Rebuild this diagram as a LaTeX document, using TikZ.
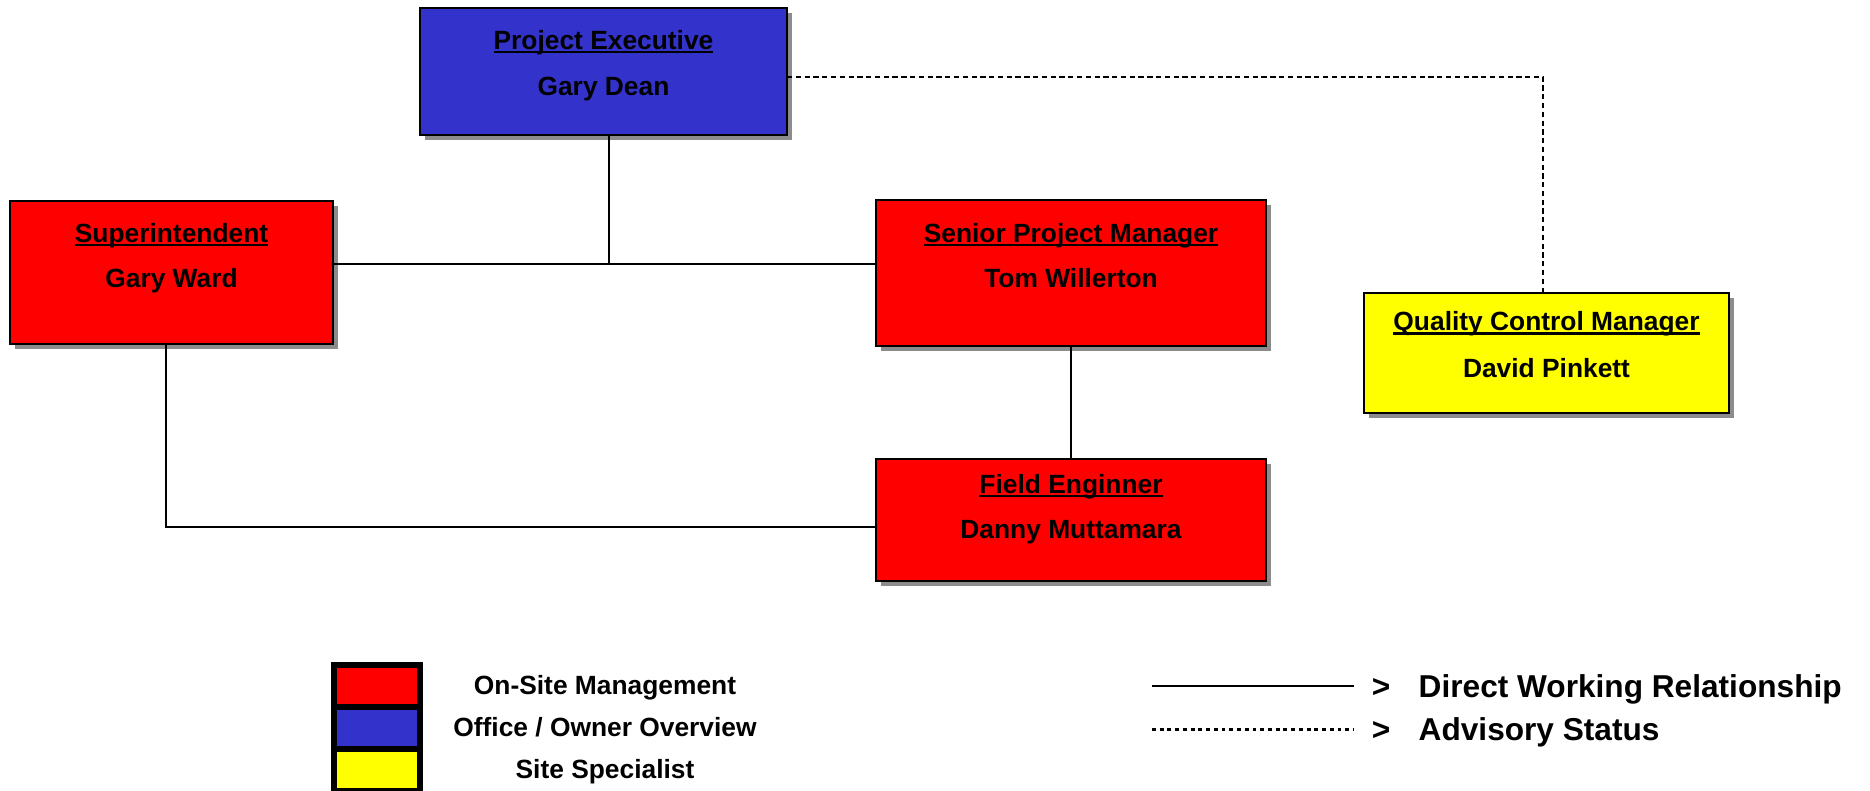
\documentclass[tikz,border=0pt]{standalone}
\usepackage{fontspec}
\setmainfont{Liberation Sans}
\usetikzlibrary{positioning, shadows}
\definecolor{execblue}{RGB}{51, 51, 204}
\definecolor{sitered}{RGB}{255, 0, 0}
\definecolor{specyellow}{RGB}{255, 255, 0}
\newcommand{\titlerule}[1]{\setbox0=\hbox{#1}\rlap{\rule[-0.16em]{\wd0}{0.1em}}\box0}

\tikzset{
    orgbox/.style={draw=black, line width=0.6pt, rectangle, inner sep=0pt, outer sep=0pt,
        drop shadow={shadow xshift=0.5mm, shadow yshift=-0.5mm, fill=black!45, opacity=1}},
    roletext/.style={font=\fontsize{7.5}{9}\selectfont\bfseries, anchor=base, inner sep=0pt},
    link/.style={draw=black, line width=0.55pt},
    advisory/.style={draw=black, line width=0.55pt, dash pattern=on 1.5pt off 1pt},
    keybox/.style={draw=black, line width=0.6mm, minimum width=8.6mm, minimum height=4.2mm, inner sep=0pt, outer sep=0pt},
    keytext/.style={font=\fontsize{7.5}{9}\selectfont\bfseries, anchor=base, inner sep=0pt},
    keydots/.style={draw=black, line width=0.85pt, dash pattern=on 1.1pt off 1.1pt},
    linetext/.style={font=\fontsize{9}{11}\selectfont\bfseries, anchor=base, inner sep=0pt}
}

\begin{document}
\begin{tikzpicture}[x=0.1mm, y=-0.1mm]
    \useasboundingbox (0,0) rectangle (1870,790);

    % connectors
    \coordinate (hub) at (609,264);
    \coordinate (supdrop) at (166,527);
    \coordinate (qcbend) at (1543,77);

    % boxes
    \node[orgbox, fill=execblue, minimum width=36.7mm, minimum height=12.7mm] (exec) at (603.5,71.5) {};
    \node[orgbox, fill=sitered, minimum width=32.3mm, minimum height=14.3mm] (sup) at (171.5,272.5) {};
    \node[orgbox, fill=sitered, minimum width=39mm, minimum height=14.6mm] (spm) at (1071,273) {};
    \node[orgbox, fill=specyellow, minimum width=36.5mm, minimum height=12mm] (qcm) at (1546.5,353) {};
    \node[orgbox, fill=sitered, minimum width=39mm, minimum height=12.2mm] (fe) at (1071,520) {};

    \draw[link] (exec.south -| hub) -- (hub);
    \draw[link] (sup.east |- hub) -- (spm.west |- hub);
    \draw[link] (spm.south) -- (fe.north);
    \draw[link] (sup.south -| supdrop) -- (supdrop) -- (fe.west |- supdrop);
    \draw[advisory] (exec.east |- qcbend) -- (qcbend) -- (qcbend |- qcm.north);

    % titles and names
    \node[roletext] (exectitle) at ([yshift=-4.1mm]exec.north) {\titlerule{Project Executive}};
    \node[roletext] (execname) at ([yshift=-8.7mm]exec.north) {Gary Dean};
    \node[roletext] (suptitle) at ([yshift=-4.1mm]sup.north) {\titlerule{Superintendent}};
    \node[roletext] (supname) at ([yshift=-8.6mm]sup.north) {Gary Ward};
    \node[roletext] (spmtitle) at ([yshift=-4.2mm]spm.north) {\titlerule{Senior Project Manager}};
    \node[roletext] (spmname) at ([yshift=-8.7mm]spm.north) {Tom Willerton};
    \node[roletext] (qcmtitle) at ([yshift=-3.75mm]qcm.north) {\titlerule{Quality Control Manager}};
    \node[roletext] (qcmname) at ([yshift=-8.4mm]qcm.north) {David Pinkett};
    \node[roletext] (fetitle) at ([yshift=-3.4mm]fe.north) {\titlerule{Field Enginner}};
    \node[roletext] (fename) at ([yshift=-7.9mm]fe.north) {Danny Muttamara};

    % colour key
    \node[keybox, fill=sitered] (keysite) at (377,686) {};
    \node[keybox, fill=execblue, below=0pt of keysite] (keyoffice) {};
    \node[keybox, fill=specyellow, below=0pt of keyoffice] (keyspec) {};
    \node[keytext] (sitelabel) at (605,694) {On-Site Management};
    \node[keytext] (officelabel) at (605,736) {Office / Owner Overview};
    \node[keytext] (speclabel) at (605,778) {Site Specialist};

    % line key
    \coordinate (solidstart) at (1152,686);
    \coordinate (solidend) at (1354,686);
    \coordinate (dotstart) at (1152,729);
    \coordinate (dotend) at (1354,729);
    \draw[link] (solidstart) -- (solidend);
    \draw[keydots] (dotstart) -- (dotend);
    \node[linetext] (solidmark) at (1381,697) {>};
    \node[linetext, anchor=base west] (solidlabel) at (1418,697) {Direct Working Relationship};
    \node[linetext] (dotmark) at (1381,740) {>};
    \node[linetext, anchor=base west] (dotlabel) at (1418,740) {Advisory Status};
\end{tikzpicture}
\end{document}
